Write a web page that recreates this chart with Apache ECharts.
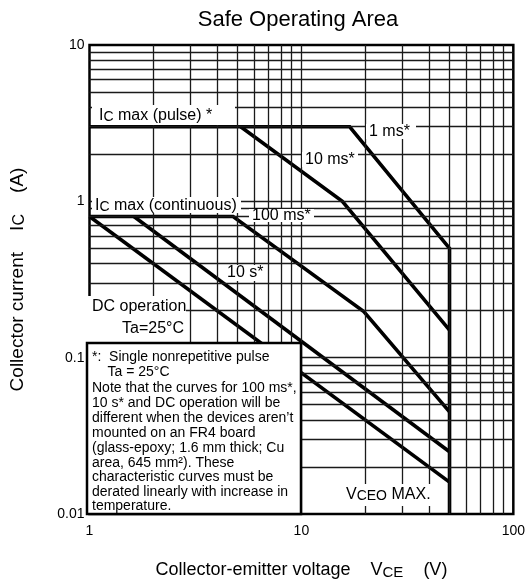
<!DOCTYPE html>
<html>
<head>
<meta charset="utf-8">
<script src="https://cdn.jsdelivr.net/npm/echarts@6/dist/echarts.min.js"></script>
<style>
  html, body { margin: 0; padding: 0; background: #fff; }
  #chart { width: 528px; height: 585px; }
</style>
</head>
<body>
<div id="chart"></div>
<script>
// Axis ticks and their labels
const xTickValues = [1, 10, 100];
const xTickLabels = ['1', '10', '100'];
const yTickValues = [0.01, 0.1, 1, 10];
const yTickLabels = ['0.01', '0.1', '1', '10'];

// Log-paper grid lines (2..9 within each decade)
const xGridValues = [2, 3, 4, 5, 6, 7, 8, 9, 10, 20, 30, 40, 50, 60, 70, 80, 90];
const yGridValues = [0.02, 0.03, 0.04, 0.05, 0.06, 0.07, 0.08, 0.09, 0.1,
                     0.2, 0.3, 0.4, 0.5, 0.6, 0.7, 0.8, 0.9, 1,
                     2, 3, 4, 5, 6, 7, 8, 9];

// Safe operating area boundaries: [VCE (V), IC (A)]
const curve1ms   = [[1, 3], [16.9, 3], [50, 0.5], [50, 0.01]];
const curve10ms  = [[5.17, 3], [15.6, 1.0], [50, 0.15]];
const curve100ms = [[1, 0.8], [4.76, 0.8], [19.7, 0.197], [50, 0.045]];
const curve10s   = [[1.62, 0.8], [50, 0.025]];
const curveDC    = [[1, 0.8], [50, 0.016]];

const FONT = '"Liberation Sans", Arial, Helvetica, sans-serif';

function tickLabel(values, labels) {
  return function (v) {
    for (let i = 0; i < values.length; i++) {
      if (Math.abs(Math.log10(v) - Math.log10(values[i])) < 1e-6) return labels[i];
    }
    return '';
  };
}

const chart = echarts.init(document.getElementById('chart'), null, { renderer: 'canvas' });

function curveSeries(name, data) {
  return {
    name: name, type: 'line', data: data, symbol: 'none', z: 3,
    lineStyle: { color: '#000', width: 3.6, join: 'miter' },
    silent: true, animation: false
  };
}

const gridLineData = xGridValues.map(v => ({ xAxis: v }))
  .concat(yGridValues.map(v => ({ yAxis: v })));

// white patches behind the in-plot labels
function patch(x, y, w, h) {
  return { type: 'rect', shape: { x: x, y: y, width: w, height: h },
           style: { fill: '#fff' }, z: 40, silent: true };
}
function label(text, x, y, size, opts) {
  const style = Object.assign({
    text: text, x: x, y: y, fill: '#000',
    font: size + 'px ' + FONT, textVerticalAlign: 'middle', textAlign: 'left'
  }, opts || {});
  return { type: 'text', style: style, z: 60, silent: true };
}
function subRich(size) {
  return {
    n: { fontFamily: FONT, fontSize: size, color: '#000' },
    s: { fontFamily: FONT, fontSize: Math.round(size * 0.86), color: '#000', padding: [Math.round(size * 0.2), 0, 0, 0] }
  };
}

const noteLines = [
  '*:  Single nonrepetitive pulse',
  '    Ta = 25°C',
  'Note that the curves for 100 ms*,',
  '10 s* and DC operation will be',
  'different when the devices aren’t',
  'mounted on an FR4 board',
  '(glass-epoxy; 1.6 mm thick; Cu',
  'area, 645 mm²). These',
  'characteristic curves must be',
  'derated linearly with increase in',
  'temperature.'
];
const noteY = [357, 372, 388, 403, 418, 433, 448, 463, 477.5, 492, 506.5];

const graphics = [
  // IC max (pulse)
  patch(92, 105, 143, 20),
  { type: 'text', z: 60, silent: true, style: { x: 99, y: 115.5, textVerticalAlign: 'middle',
      text: '{n|I}{s|C}{n| max (pulse) }{a|*}', rich: Object.assign(subRich(16), { a: { fontFamily: FONT, fontSize: 16, color: '#444' } }) } },
  // 1 ms
  patch(366, 124, 50, 15),
  label('1 ms*', 369, 131.5, 16),
  // 10 ms
  patch(302, 152, 56, 15),
  label('10 ms*', 305, 159.5, 16),
  // IC max (continuous)
  patch(92, 197, 149, 16),
  { type: 'text', z: 60, silent: true, style: { x: 95, y: 205.5, textVerticalAlign: 'middle',
      text: '{n|I}{s|C}{n| max (continuous)}', rich: subRich(16) } },
  // 100 ms
  patch(249, 209, 65, 13),
  label('100 ms*', 252, 215.5, 16),
  // 10 s
  patch(224, 265, 40, 16),
  label('10 s*', 227, 273, 16),
  // DC operation
  patch(88, 296, 98, 47),
  label('DC operation', 92, 306.5, 16),
  label('Ta=25°C', 153, 328.5, 16, { textAlign: 'center' }),
  // VCEO MAX.
  patch(341, 484, 99, 22),
  { type: 'text', z: 60, silent: true, style: { x: 346, y: 495, textVerticalAlign: 'middle',
      text: '{n|V}{s|CEO}{n| MAX.}', rich: subRich(16) } },
  // note box
  { type: 'rect', shape: { x: 87, y: 343, width: 214, height: 171 },
    style: { fill: '#fff', stroke: '#000', lineWidth: 2.5 }, z: 70, silent: true }
].concat(noteLines.map((t, i) => ({
  type: 'text', z: 80, silent: true,
  style: { text: t, x: 92, y: noteY[i], fill: '#000', font: '14px ' + FONT, textVerticalAlign: 'middle' }
})));

const option = {
  backgroundColor: '#fff',
  animation: false,
  title: {
    text: 'Safe Operating Area', left: 293, top: 4, textAlign: 'center',
    textStyle: { fontFamily: FONT, fontSize: 22, fontWeight: 'normal', color: '#000' }
  },
  grid: {
    left: 87, top: 45, right: 14, bottom: 71,
    show: true, borderColor: '#000', borderWidth: 2.5, backgroundColor: '#fff'
  },
  xAxis: {
    type: 'log', logBase: 10, min: 1, max: 100,
    name: '{n|Collector-emitter voltage    V}{s|CE}{n|    (V)}',
    nameLocation: 'middle', nameGap: 47,
    nameTextStyle: { rich: subRich(18) },
    axisLine: { show: false }, axisTick: { show: false }, splitLine: { show: false },
    axisLabel: { formatter: tickLabel(xTickValues, xTickLabels), fontFamily: FONT, fontSize: 14, color: '#000', margin: 10 }
  },
  yAxis: {
    type: 'log', logBase: 10, min: 0.01, max: 10,
    name: '{n|Collector current    I}{s|C}{n|    (A)}',
    nameLocation: 'middle', nameGap: 62, nameRotate: 90,
    nameTextStyle: { rich: subRich(19) },
    axisLine: { show: false }, axisTick: { show: false }, splitLine: { show: false },
    axisLabel: { formatter: tickLabel(yTickValues, yTickLabels), fontFamily: FONT, fontSize: 14, color: '#000', margin: 5 }
  },
  graphic: graphics,
  series: [
    {
      name: 'grid', type: 'line', data: [[1, 0.01]], symbol: 'none', z: 1, silent: true,
      lineStyle: { width: 0 },
      markLine: {
        silent: true, symbol: ['none', 'none'], animation: false,
        label: { show: false },
        lineStyle: { color: '#1a1a1a', width: 1.3, type: 'solid' },
        emphasis: { disabled: true },
        data: gridLineData
      }
    },
    curveSeries('1 ms', curve1ms),
    curveSeries('10 ms', curve10ms),
    curveSeries('100 ms', curve100ms),
    curveSeries('10 s', curve10s),
    curveSeries('DC', curveDC)
  ]
};

chart.setOption(option);
</script>
</body>
</html>
